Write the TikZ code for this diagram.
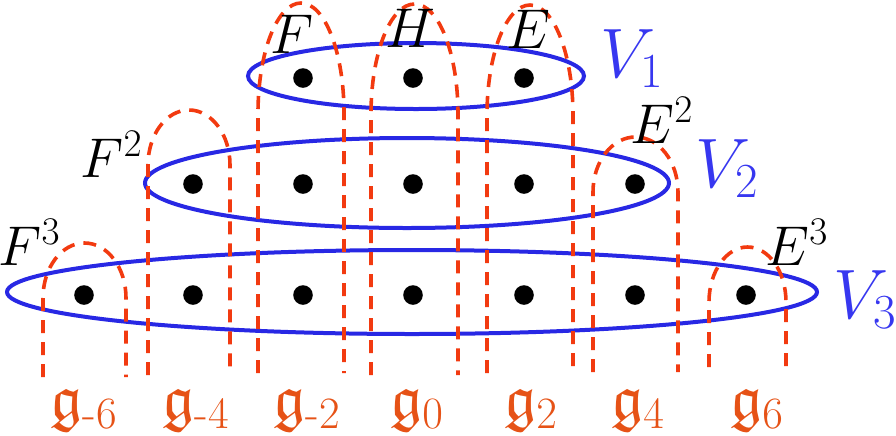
\RequirePackage{fix-cm}
\documentclass[tikz,border=0pt]{standalone}
\usepackage{amsmath,amssymb}
\DeclareFontFamily{U}{euf}{}
\DeclareFontShape{U}{euf}{m}{n}{<-6>eufm5<6-8>eufm7<8->eufm10}{}
\DeclareFontShape{U}{euf}{b}{n}{<-6>eufb5<6-8>eufb7<8->eufb10}{}
\definecolor{archred}{RGB}{242,58,16}
\definecolor{labred}{RGB}{230,82,22}
\definecolor{vblue}{RGB}{40,40,228}
\definecolor{vlab}{RGB}{55,55,240}
\newcommand{\archpath}[5]{%
  \draw[archline] (#1,#5) -- (#1,{#3+#4})
    .. controls (#1,{#3+0.4477*#4}) and ({#1+0.2239*(#2-#1)},#3) .. ({(#1+#2)/2},#3)
    .. controls ({#2-0.2239*(#2-#1)},#3) and (#2,{#3+0.4477*#4}) .. (#2,{#3+#4})
    -- (#2,#5);}
\begin{document}
\begin{tikzpicture}[x=0.5pt,y=-0.5pt,
  vset/.style={draw=vblue,line width=2pt},
  archline/.style={draw=archred,line width=1.8pt,dash pattern=on 6.5pt off 4.5pt},
  dot/.style={circle,fill=black,inner sep=0pt,minimum size=9.8pt},
  blk/.style={inner sep=0pt,anchor=base west,font=\fontsize{28}{30}\selectfont},
  vlbl/.style={inner sep=0pt,anchor=base west,text=vlab,font=\fontsize{35}{38}\selectfont},
  glbl/.style={inner sep=0pt,anchor=base,text=labred,font=\fontsize{32}{34}\selectfont}]
\useasboundingbox (0,0) rectangle (896,435);
% sets
\draw[vset] (416,76) ellipse [x radius=84pt, y radius=16.5pt];
\draw[vset] (407,183) ellipse [x radius=131pt, y radius=22.5pt];
\draw[vset] (412,292) ellipse [x radius=202.5pt, y radius=21pt];
% arches
\archpath{43}{126}{243}{55}{377}
\archpath{148}{230}{110}{55}{375}
\archpath{258}{344}{3}{110}{373}
\archpath{371}{458}{4}{110}{375}
\archpath{487}{573}{5}{110}{373}
\archpath{593}{678}{137}{55}{372}
\archpath{709}{786}{247}{55}{367}
% dots
\node[dot] (a1) at (303,78) {};
\node[dot] (a2) at (413,78) {};
\node[dot] (a3) at (524,78) {};
\node[dot] (b1) at (193,184) {};
\node[dot] (b2) at (303,184) {};
\node[dot] (b3) at (413,184) {};
\node[dot] (b4) at (524,184) {};
\node[dot] (b5) at (635,184) {};
\node[dot] (c1) at (84,295) {};
\node[dot] (c2) at (193,295) {};
\node[dot] (c3) at (303,295) {};
\node[dot] (c4) at (413,295) {};
\node[dot] (c5) at (524,295) {};
\node[dot] (c6) at (635,295) {};
\node[dot] (c7) at (746,295) {};
% labels
\node[blk] (F1) at (270,53) {$F$};
\node[blk] (H) at (385,47) {$H$};
\node[blk] (E1) at (506,48) {$E$};
\node[blk] (F2) at (80,177) {$F^2$};
\node[blk] (E2) at (630,143) {$E^2$};
\node[blk] (F3) at (-2,265) {$F^3$};
\node[blk] (E3) at (765,265) {$E^3$};
\node[vlbl] (V1) at (600,77) {$V_1$};
\node[vlbl] (V2) at (695,187) {$V_2$};
\node[vlbl] (V3) at (833,318) {$V_3$};
\node[glbl] (gm6) at (84,419) {$\mathfrak{g}_{\text{-}6}$};
\node[glbl] (gm4) at (196,419) {$\mathfrak{g}_{\text{-}4}$};
\node[glbl] (gm2) at (307,419) {$\mathfrak{g}_{\text{-}2}$};
\node[glbl] (g0) at (417,419) {$\mathfrak{g}_{0}$};
\node[glbl] (g2) at (531,419) {$\mathfrak{g}_{2}$};
\node[glbl] (g4) at (638,419) {$\mathfrak{g}_{4}$};
\node[glbl] (g6) at (757,419) {$\mathfrak{g}_{6}$};
\end{tikzpicture}
\end{document}
